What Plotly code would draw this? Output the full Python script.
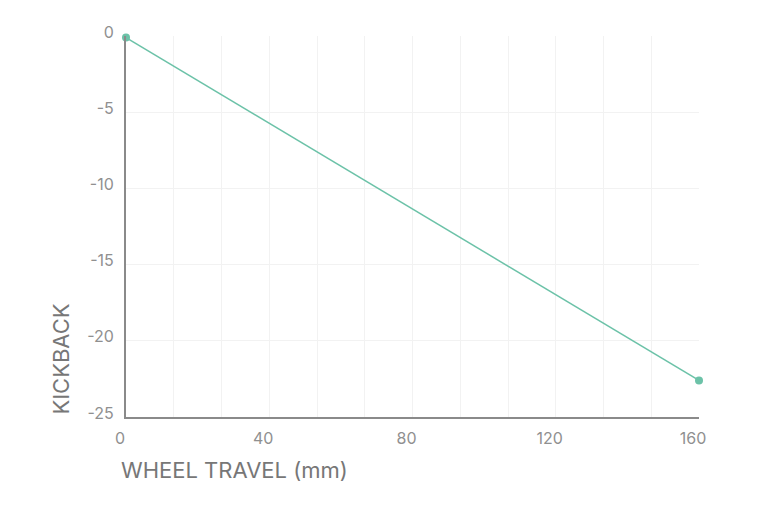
import plotly.graph_objects as go

wheel_travel = [0, 160]
kickback = [-0.1, -22.6]
x_ticks = [0, 40, 80, 120, 160]
y_ticks = [0, -5, -10, -15, -20, -25]

line_color = "#6cc2a8"
axis_color = "#8a8a8a"
tick_color = "#909090"
font_family = "Inter, Roboto, sans-serif"

fig = go.Figure()
fig.add_trace(go.Scatter(
    x=wheel_travel, y=kickback, mode="lines+markers",
    line=dict(color=line_color, width=1.5),
    marker=dict(color=line_color, size=8),
    showlegend=False, cliponaxis=False,
))

fig.update_layout(
    width=768, height=512,
    margin=dict(l=118, r=77, t=28, b=103),
    paper_bgcolor="white", plot_bgcolor="white",
    font=dict(family=font_family, color=tick_color, size=16),
    xaxis=dict(
        range=[0, 160], tickmode="array", tickvals=x_ticks,
        ticktext=[str(v) for v in x_ticks],
        showgrid=True, gridcolor="#f2f2f2", gridwidth=1,
        minor=dict(dtick=40/3, tick0=0, showgrid=True, gridcolor="#f2f2f2", gridwidth=1),
        showline=True, linecolor=axis_color, linewidth=2,
        zeroline=False, ticks="", ticklabelshift=-6, ticklabelstandoff=6,
        tickfont=dict(size=16, color=tick_color),
    ),
    yaxis=dict(
        range=[-25, 0], tickmode="array", tickvals=y_ticks,
        ticktext=[str(v) for v in y_ticks],
        showgrid=True, gridcolor="#f2f2f2", gridwidth=1,
        showline=True, linecolor=axis_color, linewidth=2,
        zeroline=False, ticks="", ticklabelstandoff=7, ticklabelshift=-4,
        tickfont=dict(size=16, color=tick_color),
    ),
    annotations=[
        dict(text="WHEEL TRAVEL (mm)", xref="paper", yref="paper",
             x=-0.012, y=-0.139, xanchor="left", yanchor="middle",
             showarrow=False, font=dict(size=22, color="#777777", family=font_family)),
        dict(text="KICKBACK", xref="paper", yref="paper", textangle=-90,
             x=-0.115, y=0.0, xanchor="center", yanchor="bottom",
             showarrow=False, font=dict(size=22, color="#777777", family=font_family)),
    ],
)

fig.write_html("out.html")
